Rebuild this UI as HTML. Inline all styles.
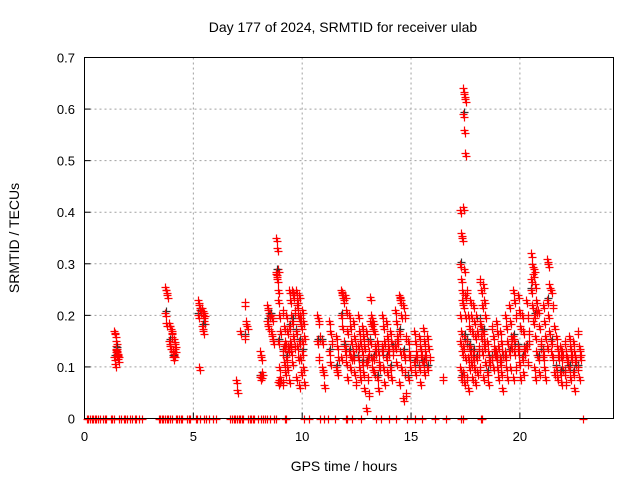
<!DOCTYPE html>
<html><head><meta charset="utf-8"><style>
body{margin:0;background:#fff}
svg{display:block;font-family:"Liberation Sans",sans-serif}
</style></head><body>
<svg id="chart" width="640" height="480" viewBox="0 0 640 480">
<rect width="640" height="480" fill="#fff"/>
<text x="343" y="32" font-size="14" text-anchor="middle">Day 177 of 2024, SRMTID for receiver ulab</text>
<text transform="translate(19,238) rotate(-90)" font-size="14" text-anchor="middle">SRMTID / TECUs</text>
<text x="344" y="471" font-size="14" text-anchor="middle">GPS time / hours</text>
<g id="grid"></g>
<g id="ticks"></g>
<g id="points"></g>
<rect x="84.5" y="57.5" width="529" height="361" fill="none" stroke="#000" stroke-width="1"/>
</svg>
<script>
const xTicks=[0,5,10,15,20];
const yTicks=[0,0.1,0.2,0.3,0.4,0.5,0.6,0.7];
const yTickLabels=["0","0.1","0.2","0.3","0.4","0.5","0.6","0.7"];
const sliceTimes=[1.40,1.50,3.75,3.95,4.10,5.25,5.45,7.00,7.20,7.40,8.10,8.45,8.60,8.85,8.95,9.15,9.30,9.45,9.60,9.75,9.90,10.05,10.75,10.95,11.3,11.6,11.85,12.0,12.2,12.4,12.6,12.8,13.0,13.15,13.3,13.5,13.7,13.9,14.1,14.3,14.5,14.7,14.9,15.2,15.4,15.6,15.8,16.5,17.3,17.45,17.6,17.75,17.9,18.05,18.2,18.35,18.55,18.75,18.95,19.15,19.35,19.55,19.75,19.95,20.15,20.35,20.55,20.7,20.9,21.1,21.3,21.5,21.7,21.9,22.1,22.3,22.5,22.7];
const sliceValues=[
[.17,.165,.15,.12,.105,.128],[.14,.13,.125,.135,.128,.115,.132],
[.255,.25,.24,.205,.185],[.185,.18,.165,.15,.14,.17],[.13,.125,.135,.12,.155,.145,.128],
[.23,.22,.21,.2,.1,.215],[.215,.2,.19,.18,.17,.205],
[.075,.055],[.17],[.225,.19,.18,.16],
[.13,.12,.09,.08,.085],[.22,.21,.2,.19,.18,.205],[.17,.16,.15,.2,.195],
[.35,.33,.29,.285,.27,.25,.28],[.23,.2,.17,.15,.1,.08,.07,.075],
[.21,.18,.15,.13,.11,.09,.07,.14],[.2,.17,.14,.12,.1,.135],[.25,.23,.2,.18,.15,.13,.075,.145],
[.25,.24,.21,.19,.16,.14,.11,.245],[.25,.23,.2,.17,.14,.12,.08,.22],[.24,.2,.18,.15,.12,.09,.065,.19],
[.21,.19,.16,.13,.1,.07,.15],
[.2,.19,.16,.15,.12],[.1,.09,.065,.15],[.19,.17,.15,.13,.11],[.16,.14,.12,.1,.09],
[.25,.245,.23,.2,.18,.15,.12,.24],[.24,.21,.17,.14,.11,.08,.13],[.2,.18,.15,.13,.1,.12],
[.19,.16,.14,.12,.09,.07,.13],[.2,.17,.15,.12,.1,.08,.14],[.18,.16,.14,.11,.09,.06,.13],
[.17,.15,.13,.11,.08,.05,.02,.12],[.235,.2,.18,.15,.12,.1,.19],[.19,.17,.14,.12,.09,.13],
[.15,.13,.11,.08,.06,.1],[.2,.18,.15,.13,.1,.07,.14],[.19,.16,.14,.12,.09,.13],
[.17,.15,.13,.1,.08,.14],[.21,.19,.16,.14,.11,.15],[.24,.23,.2,.17,.13,.1,.07,.235],
[.22,.2,.16,.13,.09,.05,.04,.12],[.15,.12,.1,.08,.13],[.17,.15,.13,.11,.09,.12],
[.16,.14,.12,.1,.07,.13],[.175,.15,.13,.11,.09,.12],[.16,.14,.12,.1],[.08],
[.405,.36,.35,.3,.27,.23,.2,.17,.13,.1,.08,.25,.15],
[.64,.63,.62,.59,.56,.515,.41,.29,.24,.22,.16,.12,.09,.07,.2,.14],
[.25,.2,.18,.15,.12,.1,.08,.06,.14],[.23,.2,.17,.14,.11,.08,.13],[.22,.19,.16,.13,.1,.07,.12],
[.2,.17,.14,.12,.09,.13],[.27,.25,.22,.19,.16,.13,.1,.18],[.26,.23,.2,.17,.14,.11,.08,.15],
[.15,.13,.11,.09,.07,.12],[.18,.16,.14,.12,.1,.13],[.19,.17,.14,.12,.1,.08,.13],
[.17,.15,.13,.11,.09,.06,.12],[.2,.18,.15,.12,.1,.08,.13],[.22,.19,.16,.13,.1,.14],
[.25,.23,.2,.16,.13,.1,.08,.15],[.24,.21,.18,.14,.11,.08,.13],[.2,.17,.14,.12,.09,.13],
[.23,.2,.17,.14,.11,.15],[.32,.3,.28,.25,.22,.19,.27],[.29,.26,.23,.2,.16,.13,.1,.08,.21],
[.21,.18,.15,.12,.09,.14],[.22,.19,.16,.13,.1,.08,.12],[.31,.3,.26,.23,.2,.17,.14],
[.25,.22,.18,.15,.12,.09,.13],[.16,.14,.12,.1,.08,.13],[.14,.12,.1,.09,.07,.13],
[.15,.13,.11,.09,.07,.12],[.16,.14,.12,.1,.08,.13],[.15,.13,.11,.09,.06,.12],[.17,.14,.12,.1,.08,.13]];
const zeroTimes=[0.1,0.18,0.25,0.33,0.4,0.48,0.55,0.63,0.7,0.85,0.93,1.0,1.2,1.28,1.35,1.6,1.68,1.8,1.88,1.95,2.1,2.18,2.3,2.38,2.5,2.65,3.4,3.47,3.55,3.62,3.7,3.78,3.85,3.93,4.0,4.2,4.27,4.35,4.42,4.5,4.7,4.78,4.85,5.1,5.18,5.3,5.5,5.58,5.7,5.9,6.05,6.7,6.78,6.85,6.93,7.0,7.08,7.15,7.23,7.3,7.5,7.58,7.65,7.73,7.8,7.95,8.1,8.18,8.3,8.38,8.5,8.7,8.78,9.2,9.27,10.1,10.3,10.8,11.0,11.2,11.5,12.0,12.07,12.3,12.7,13.4,13.6,14.0,14.3,14.8,15.2,15.5,16.1,16.6,17.3,17.37,18.2,18.27,22.9];

const X0=84.5,X1=613.5,Y0=418.5,Y1=57.5,XMAX=24.3,YMAX=0.7;
const xs=t=>X0+t/XMAX*(X1-X0);
const ys=v=>Y0-v/YMAX*(Y0-Y1);
const NS="http://www.w3.org/2000/svg";
function mk(tag,attrs,parent){const e=document.createElementNS(NS,tag);for(const k in attrs)e.setAttribute(k,attrs[k]);parent.appendChild(e);return e;}
const grid=document.getElementById('grid'),ticks=document.getElementById('ticks'),pts=document.getElementById('points');
xTicks.forEach(t=>{const x=xs(t);
 if(t>0){const g=mk('line',{x1:x,x2:x,y1:Y1,y2:Y0,stroke:'#a0a0a0','stroke-dasharray':'2,3'},grid);
 
 }
 const tk=mk('line',{x1:x,x2:x,y1:Y0,y2:Y0-6,stroke:'#000'},ticks);
 
 
 const l=mk('text',{x:x,y:441,'font-size':'13','text-anchor':'middle'},ticks);l.textContent=t;
 
 });
yTicks.forEach((v,i)=>{const y=ys(v);
 if(v>0&&v<YMAX){const g=mk('line',{x1:X0,x2:X1,y1:y,y2:y,stroke:'#a0a0a0','stroke-dasharray':'2,3'},grid);
 
 }
 const tk=mk('line',{x1:X0,x2:X0+6,y1:y,y2:y,stroke:'#000'},ticks);
 
 
 const l=mk('text',{x:75,y:y+5,'font-size':'13','text-anchor':'end'},ticks);l.textContent=yTickLabels[i];
 
 });
function plus(t,v,col){const x=Math.round(xs(t))+0.5,y=Math.round(ys(v))+0.5;
 const p=mk('path',{d:`M${x-4},${y}H${x+4}M${x},${y-4}V${y+4}`,stroke:col,'stroke-width':'1.2',fill:'none'},pts);
 
 }
sliceTimes.forEach((t,i)=>sliceValues[i].forEach((v,j)=>{
 const dt=((j%3)-1)*0.05;
 if(j%7==3)plus(t+dt+0.03,v+0.004,'#333');
 plus(t+dt,v,'#f00');
 plus(t+dt+0.04,v-0.006,'#f00');}));
zeroTimes.forEach(t=>plus(t,0,'#f00'));
</script>
</body></html>
